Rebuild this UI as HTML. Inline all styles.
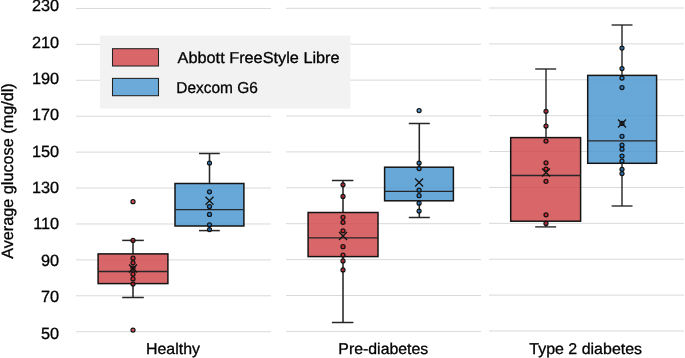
<!DOCTYPE html><html><head><meta charset="utf-8"><style>html,body{margin:0;padding:0;background:#fff;width:685px;height:358px;overflow:hidden}svg{display:block;will-change:transform}text{text-rendering:geometricPrecision;font-family:"Liberation Sans",sans-serif;fill:#000;stroke:#000;stroke-width:0.3px}</style></head><body>
<svg width="685" height="358" viewBox="0 0 685 358">
<line x1="76" y1="8.45" x2="271" y2="8.45" stroke="#d9d9d9" stroke-width="1"/>
<line x1="286" y1="8.30" x2="481" y2="8.30" stroke="#d9d9d9" stroke-width="1"/>
<line x1="489" y1="8.00" x2="684" y2="8.00" stroke="#d9d9d9" stroke-width="1"/>
<line x1="76" y1="44.37" x2="271" y2="44.37" stroke="#d9d9d9" stroke-width="1"/>
<line x1="286" y1="44.20" x2="481" y2="44.20" stroke="#d9d9d9" stroke-width="1"/>
<line x1="489" y1="43.89" x2="684" y2="43.89" stroke="#d9d9d9" stroke-width="1"/>
<line x1="76" y1="80.29" x2="271" y2="80.29" stroke="#d9d9d9" stroke-width="1"/>
<line x1="286" y1="80.10" x2="481" y2="80.10" stroke="#d9d9d9" stroke-width="1"/>
<line x1="489" y1="79.78" x2="684" y2="79.78" stroke="#d9d9d9" stroke-width="1"/>
<line x1="76" y1="116.21" x2="271" y2="116.21" stroke="#d9d9d9" stroke-width="1"/>
<line x1="286" y1="116.00" x2="481" y2="116.00" stroke="#d9d9d9" stroke-width="1"/>
<line x1="489" y1="115.67" x2="684" y2="115.67" stroke="#d9d9d9" stroke-width="1"/>
<line x1="76" y1="152.13" x2="271" y2="152.13" stroke="#d9d9d9" stroke-width="1"/>
<line x1="286" y1="151.90" x2="481" y2="151.90" stroke="#d9d9d9" stroke-width="1"/>
<line x1="489" y1="151.56" x2="684" y2="151.56" stroke="#d9d9d9" stroke-width="1"/>
<line x1="76" y1="188.05" x2="271" y2="188.05" stroke="#d9d9d9" stroke-width="1"/>
<line x1="286" y1="187.80" x2="481" y2="187.80" stroke="#d9d9d9" stroke-width="1"/>
<line x1="489" y1="187.45" x2="684" y2="187.45" stroke="#d9d9d9" stroke-width="1"/>
<line x1="76" y1="223.97" x2="271" y2="223.97" stroke="#d9d9d9" stroke-width="1"/>
<line x1="286" y1="223.70" x2="481" y2="223.70" stroke="#d9d9d9" stroke-width="1"/>
<line x1="489" y1="223.34" x2="684" y2="223.34" stroke="#d9d9d9" stroke-width="1"/>
<line x1="76" y1="259.89" x2="271" y2="259.89" stroke="#d9d9d9" stroke-width="1"/>
<line x1="286" y1="259.60" x2="481" y2="259.60" stroke="#d9d9d9" stroke-width="1"/>
<line x1="489" y1="259.23" x2="684" y2="259.23" stroke="#d9d9d9" stroke-width="1"/>
<line x1="76" y1="295.81" x2="271" y2="295.81" stroke="#d9d9d9" stroke-width="1"/>
<line x1="286" y1="295.50" x2="481" y2="295.50" stroke="#d9d9d9" stroke-width="1"/>
<line x1="489" y1="295.12" x2="684" y2="295.12" stroke="#d9d9d9" stroke-width="1"/>
<line x1="76" y1="331.73" x2="271" y2="331.73" stroke="#d9d9d9" stroke-width="1"/>
<line x1="286" y1="331.40" x2="481" y2="331.40" stroke="#d9d9d9" stroke-width="1"/>
<line x1="489" y1="331.01" x2="684" y2="331.01" stroke="#d9d9d9" stroke-width="1"/>
<text x="59.1" y="11.40" font-size="16.3" text-anchor="end">230</text>
<text x="59.1" y="47.65" font-size="16.3" text-anchor="end">210</text>
<text x="59.1" y="83.80" font-size="16.3" text-anchor="end">190</text>
<text x="59.1" y="120.30" font-size="16.3" text-anchor="end">170</text>
<text x="59.1" y="156.60" font-size="16.3" text-anchor="end">150</text>
<text x="59.1" y="192.80" font-size="16.3" text-anchor="end">130</text>
<text x="59.1" y="229.30" font-size="16.3" text-anchor="end">110</text>
<text x="59.1" y="265.50" font-size="16.3" text-anchor="end">90</text>
<text x="59.1" y="301.80" font-size="16.3" text-anchor="end">70</text>
<text x="59.1" y="338.80" font-size="16.3" text-anchor="end">50</text>
<text transform="translate(13.4,258.8) rotate(-90)" font-size="16.3" textLength="175.5" lengthAdjust="spacingAndGlyphs">Average glucose (mg/dl)</text>
<text x="146" y="354.3" font-size="15.6" textLength="54" lengthAdjust="spacingAndGlyphs">Healthy</text>
<text x="338.3" y="354.4" font-size="15.6" textLength="90" lengthAdjust="spacingAndGlyphs">Pre-diabetes</text>
<text x="529.3" y="354.3" font-size="15.6" textLength="112.8" lengthAdjust="spacingAndGlyphs">Type 2 diabetes</text>
<line x1="133" y1="240.4" x2="133" y2="253.9" stroke="#262626" stroke-width="1.55"/>
<line x1="133" y1="283.6" x2="133" y2="297.5" stroke="#262626" stroke-width="1.55"/>
<line x1="122.2" y1="240.4" x2="143.8" y2="240.4" stroke="#262626" stroke-width="1.5"/>
<line x1="122.2" y1="297.5" x2="143.8" y2="297.5" stroke="#262626" stroke-width="1.5"/>
<rect x="98.1" y="253.9" width="69.80" height="29.70" fill="#d24b4d" fill-opacity="0.85" stroke="#141414" stroke-width="1.5"/>
<line x1="98.1" y1="271.5" x2="167.9" y2="271.5" stroke="#262626" stroke-width="1.3"/>
<circle cx="133" cy="201.7" r="2.0" fill="rgba(205,20,35,0.72)" stroke="#141414" stroke-width="1.25"/>
<circle cx="133" cy="240.4" r="2.0" fill="rgba(205,20,35,0.72)" stroke="#141414" stroke-width="1.25"/>
<circle cx="133" cy="258.2" r="2.0" fill="rgba(205,20,35,0.72)" stroke="#141414" stroke-width="1.25"/>
<circle cx="133" cy="262.8" r="2.0" fill="rgba(205,20,35,0.72)" stroke="#141414" stroke-width="1.25"/>
<circle cx="133" cy="268" r="2.0" fill="rgba(205,20,35,0.72)" stroke="#141414" stroke-width="1.25"/>
<circle cx="133" cy="274.2" r="2.0" fill="rgba(205,20,35,0.72)" stroke="#141414" stroke-width="1.25"/>
<circle cx="133" cy="278.9" r="2.0" fill="rgba(205,20,35,0.72)" stroke="#141414" stroke-width="1.25"/>
<circle cx="133" cy="284.1" r="2.0" fill="rgba(205,20,35,0.72)" stroke="#141414" stroke-width="1.25"/>
<circle cx="133" cy="330" r="2.0" fill="rgba(205,20,35,0.72)" stroke="#141414" stroke-width="1.25"/>
<path d="M129 264.5L137 272.5M137 264.5L129 272.5" stroke="#141414" stroke-width="1.35"/>
<line x1="209.5" y1="153.5" x2="209.5" y2="183.5" stroke="#262626" stroke-width="1.55"/>
<line x1="209.5" y1="226" x2="209.5" y2="230.6" stroke="#262626" stroke-width="1.55"/>
<line x1="199.0" y1="153.5" x2="219.8" y2="153.5" stroke="#262626" stroke-width="1.5"/>
<line x1="199.0" y1="230.6" x2="219.8" y2="230.6" stroke="#262626" stroke-width="1.5"/>
<rect x="175.0" y="183.5" width="68.90" height="42.50" fill="#4d99d2" fill-opacity="0.85" stroke="#141414" stroke-width="1.5"/>
<line x1="175.0" y1="209.6" x2="243.9" y2="209.6" stroke="#262626" stroke-width="1.3"/>
<circle cx="209.5" cy="163.1" r="2.0" fill="rgba(12,115,204,0.68)" stroke="#141414" stroke-width="1.25"/>
<circle cx="209.5" cy="191.8" r="2.0" fill="rgba(12,115,204,0.68)" stroke="#141414" stroke-width="1.25"/>
<circle cx="209.5" cy="206.5" r="2.0" fill="rgba(12,115,204,0.68)" stroke="#141414" stroke-width="1.25"/>
<circle cx="209.5" cy="214.4" r="2.0" fill="rgba(12,115,204,0.68)" stroke="#141414" stroke-width="1.25"/>
<circle cx="209.5" cy="224.8" r="2.0" fill="rgba(12,115,204,0.68)" stroke="#141414" stroke-width="1.25"/>
<circle cx="209.5" cy="229.6" r="2.0" fill="rgba(12,115,204,0.68)" stroke="#141414" stroke-width="1.25"/>
<path d="M205.5 196.8L213.5 204.8M213.5 196.8L205.5 204.8" stroke="#141414" stroke-width="1.35"/>
<line x1="343" y1="180.5" x2="343" y2="212.5" stroke="#262626" stroke-width="1.55"/>
<line x1="343" y1="256.6" x2="343" y2="322.5" stroke="#262626" stroke-width="1.55"/>
<line x1="331.9" y1="180.5" x2="353.4" y2="180.5" stroke="#262626" stroke-width="1.5"/>
<line x1="331.9" y1="322.5" x2="353.4" y2="322.5" stroke="#262626" stroke-width="1.5"/>
<rect x="308.1" y="212.5" width="69.90" height="44.10" fill="#d24b4d" fill-opacity="0.85" stroke="#141414" stroke-width="1.5"/>
<line x1="308.1" y1="237.9" x2="378" y2="237.9" stroke="#262626" stroke-width="1.3"/>
<circle cx="343" cy="184.8" r="2.0" fill="rgba(205,20,35,0.72)" stroke="#141414" stroke-width="1.25"/>
<circle cx="343" cy="196.4" r="2.0" fill="rgba(205,20,35,0.72)" stroke="#141414" stroke-width="1.25"/>
<circle cx="343" cy="217.3" r="2.0" fill="rgba(205,20,35,0.72)" stroke="#141414" stroke-width="1.25"/>
<circle cx="343" cy="222.3" r="2.0" fill="rgba(205,20,35,0.72)" stroke="#141414" stroke-width="1.25"/>
<circle cx="343" cy="230.8" r="2.0" fill="rgba(205,20,35,0.72)" stroke="#141414" stroke-width="1.25"/>
<circle cx="343" cy="246.7" r="2.0" fill="rgba(205,20,35,0.72)" stroke="#141414" stroke-width="1.25"/>
<circle cx="343" cy="255.1" r="2.0" fill="rgba(205,20,35,0.72)" stroke="#141414" stroke-width="1.25"/>
<circle cx="343" cy="260.9" r="2.0" fill="rgba(205,20,35,0.72)" stroke="#141414" stroke-width="1.25"/>
<circle cx="343" cy="269.9" r="2.0" fill="rgba(205,20,35,0.72)" stroke="#141414" stroke-width="1.25"/>
<path d="M339 231.9L347 239.9M347 231.9L339 239.9" stroke="#141414" stroke-width="1.35"/>
<line x1="419.3" y1="123.5" x2="419.3" y2="167.2" stroke="#262626" stroke-width="1.55"/>
<line x1="419.3" y1="200.8" x2="419.3" y2="217.5" stroke="#262626" stroke-width="1.55"/>
<line x1="408.8" y1="123.5" x2="429.8" y2="123.5" stroke="#262626" stroke-width="1.5"/>
<line x1="408.8" y1="217.5" x2="429.8" y2="217.5" stroke="#262626" stroke-width="1.5"/>
<rect x="384.6" y="167.2" width="68.80" height="33.60" fill="#4d99d2" fill-opacity="0.85" stroke="#141414" stroke-width="1.5"/>
<line x1="384.6" y1="191.4" x2="453.4" y2="191.4" stroke="#262626" stroke-width="1.3"/>
<circle cx="419.1" cy="110.6" r="2.0" fill="rgba(12,115,204,0.68)" stroke="#141414" stroke-width="1.25"/>
<circle cx="419.1" cy="163" r="2.0" fill="rgba(12,115,204,0.68)" stroke="#141414" stroke-width="1.25"/>
<circle cx="419.1" cy="168.6" r="2.0" fill="rgba(12,115,204,0.68)" stroke="#141414" stroke-width="1.25"/>
<circle cx="419.1" cy="190.2" r="2.0" fill="rgba(12,115,204,0.68)" stroke="#141414" stroke-width="1.25"/>
<circle cx="419.1" cy="195.7" r="2.0" fill="rgba(12,115,204,0.68)" stroke="#141414" stroke-width="1.25"/>
<circle cx="419.1" cy="203.2" r="2.0" fill="rgba(12,115,204,0.68)" stroke="#141414" stroke-width="1.25"/>
<circle cx="419.1" cy="211.0" r="2.0" fill="rgba(12,115,204,0.68)" stroke="#141414" stroke-width="1.25"/>
<path d="M415.1 178.6L423.1 186.6M423.1 178.6L415.1 186.6" stroke="#141414" stroke-width="1.35"/>
<line x1="546.0" y1="69.0" x2="546.0" y2="137.6" stroke="#262626" stroke-width="1.42"/>
<line x1="546.0" y1="221.2" x2="546.0" y2="226.9" stroke="#262626" stroke-width="1.42"/>
<line x1="535.2" y1="69.0" x2="556.2" y2="69.0" stroke="#262626" stroke-width="1.3699999999999999"/>
<line x1="535.2" y1="226.9" x2="556.2" y2="226.9" stroke="#262626" stroke-width="1.3699999999999999"/>
<rect x="510.7" y="137.6" width="69.90" height="83.60" fill="#d24b4d" fill-opacity="0.85" stroke="#141414" stroke-width="1.5"/>
<line x1="510.7" y1="175.5" x2="580.6" y2="175.5" stroke="#262626" stroke-width="1.3"/>
<circle cx="546.0" cy="111.3" r="2.0" fill="rgba(205,20,35,0.72)" stroke="#141414" stroke-width="1.25"/>
<circle cx="546.0" cy="126" r="2.0" fill="rgba(205,20,35,0.72)" stroke="#141414" stroke-width="1.25"/>
<circle cx="546.0" cy="141.1" r="2.0" fill="rgba(205,20,35,0.72)" stroke="#141414" stroke-width="1.25"/>
<circle cx="546.0" cy="162.8" r="2.0" fill="rgba(205,20,35,0.72)" stroke="#141414" stroke-width="1.25"/>
<circle cx="546.0" cy="169" r="2.0" fill="rgba(205,20,35,0.72)" stroke="#141414" stroke-width="1.25"/>
<circle cx="546.0" cy="181.3" r="2.0" fill="rgba(205,20,35,0.72)" stroke="#141414" stroke-width="1.25"/>
<circle cx="546.0" cy="214.8" r="2.0" fill="rgba(205,20,35,0.72)" stroke="#141414" stroke-width="1.25"/>
<circle cx="546.0" cy="223.4" r="2.0" fill="rgba(205,20,35,0.72)" stroke="#141414" stroke-width="1.25"/>
<path d="M542.0 168.5L550.0 176.5M550.0 168.5L542.0 176.5" stroke="#141414" stroke-width="1.35"/>
<line x1="622" y1="25.0" x2="622" y2="75.4" stroke="#262626" stroke-width="1.42"/>
<line x1="622" y1="163.3" x2="622" y2="206.0" stroke="#262626" stroke-width="1.42"/>
<line x1="611.6" y1="25.0" x2="632.5" y2="25.0" stroke="#262626" stroke-width="1.3699999999999999"/>
<line x1="611.6" y1="206.0" x2="632.5" y2="206.0" stroke="#262626" stroke-width="1.3699999999999999"/>
<rect x="587.7" y="75.4" width="68.90" height="87.90" fill="#4d99d2" fill-opacity="0.85" stroke="#141414" stroke-width="1.5"/>
<line x1="587.7" y1="140.8" x2="656.6" y2="140.8" stroke="#262626" stroke-width="1.3"/>
<circle cx="622" cy="48" r="2.0" fill="rgba(12,115,204,0.68)" stroke="#141414" stroke-width="1.25"/>
<circle cx="622" cy="68.6" r="2.0" fill="rgba(12,115,204,0.68)" stroke="#141414" stroke-width="1.25"/>
<circle cx="622" cy="78.1" r="2.0" fill="rgba(12,115,204,0.68)" stroke="#141414" stroke-width="1.25"/>
<circle cx="622" cy="87.6" r="2.0" fill="rgba(12,115,204,0.68)" stroke="#141414" stroke-width="1.25"/>
<circle cx="622" cy="123.4" r="2.0" fill="rgba(12,115,204,0.68)" stroke="#141414" stroke-width="1.25"/>
<circle cx="622" cy="136.3" r="2.0" fill="rgba(12,115,204,0.68)" stroke="#141414" stroke-width="1.25"/>
<circle cx="622" cy="145" r="2.0" fill="rgba(12,115,204,0.68)" stroke="#141414" stroke-width="1.25"/>
<circle cx="622" cy="149.2" r="2.0" fill="rgba(12,115,204,0.68)" stroke="#141414" stroke-width="1.25"/>
<circle cx="622" cy="156" r="2.0" fill="rgba(12,115,204,0.68)" stroke="#141414" stroke-width="1.25"/>
<circle cx="622" cy="161" r="2.0" fill="rgba(12,115,204,0.68)" stroke="#141414" stroke-width="1.25"/>
<circle cx="622" cy="169.3" r="2.0" fill="rgba(12,115,204,0.68)" stroke="#141414" stroke-width="1.25"/>
<circle cx="622" cy="173.5" r="2.0" fill="rgba(12,115,204,0.68)" stroke="#141414" stroke-width="1.25"/>
<path d="M618 119.4L626 127.4M626 119.4L618 127.4" stroke="#141414" stroke-width="1.35"/>
<rect x="100" y="35.6" width="250.4" height="72.9" fill="#f2f2f2"/>
<rect x="112.5" y="48.7" width="46" height="17.3" fill="#d9676a" stroke="#222" stroke-width="1.05"/>
<rect x="112.5" y="78.4" width="46" height="17.3" fill="#6caada" stroke="#222" stroke-width="1.05"/>
<text x="177.6" y="62.8" font-size="15.8" textLength="162" lengthAdjust="spacingAndGlyphs">Abbott FreeStyle Libre</text>
<text x="176.3" y="92.8" font-size="15.8" textLength="81.5" lengthAdjust="spacingAndGlyphs">Dexcom G6</text>
</svg></body></html>
